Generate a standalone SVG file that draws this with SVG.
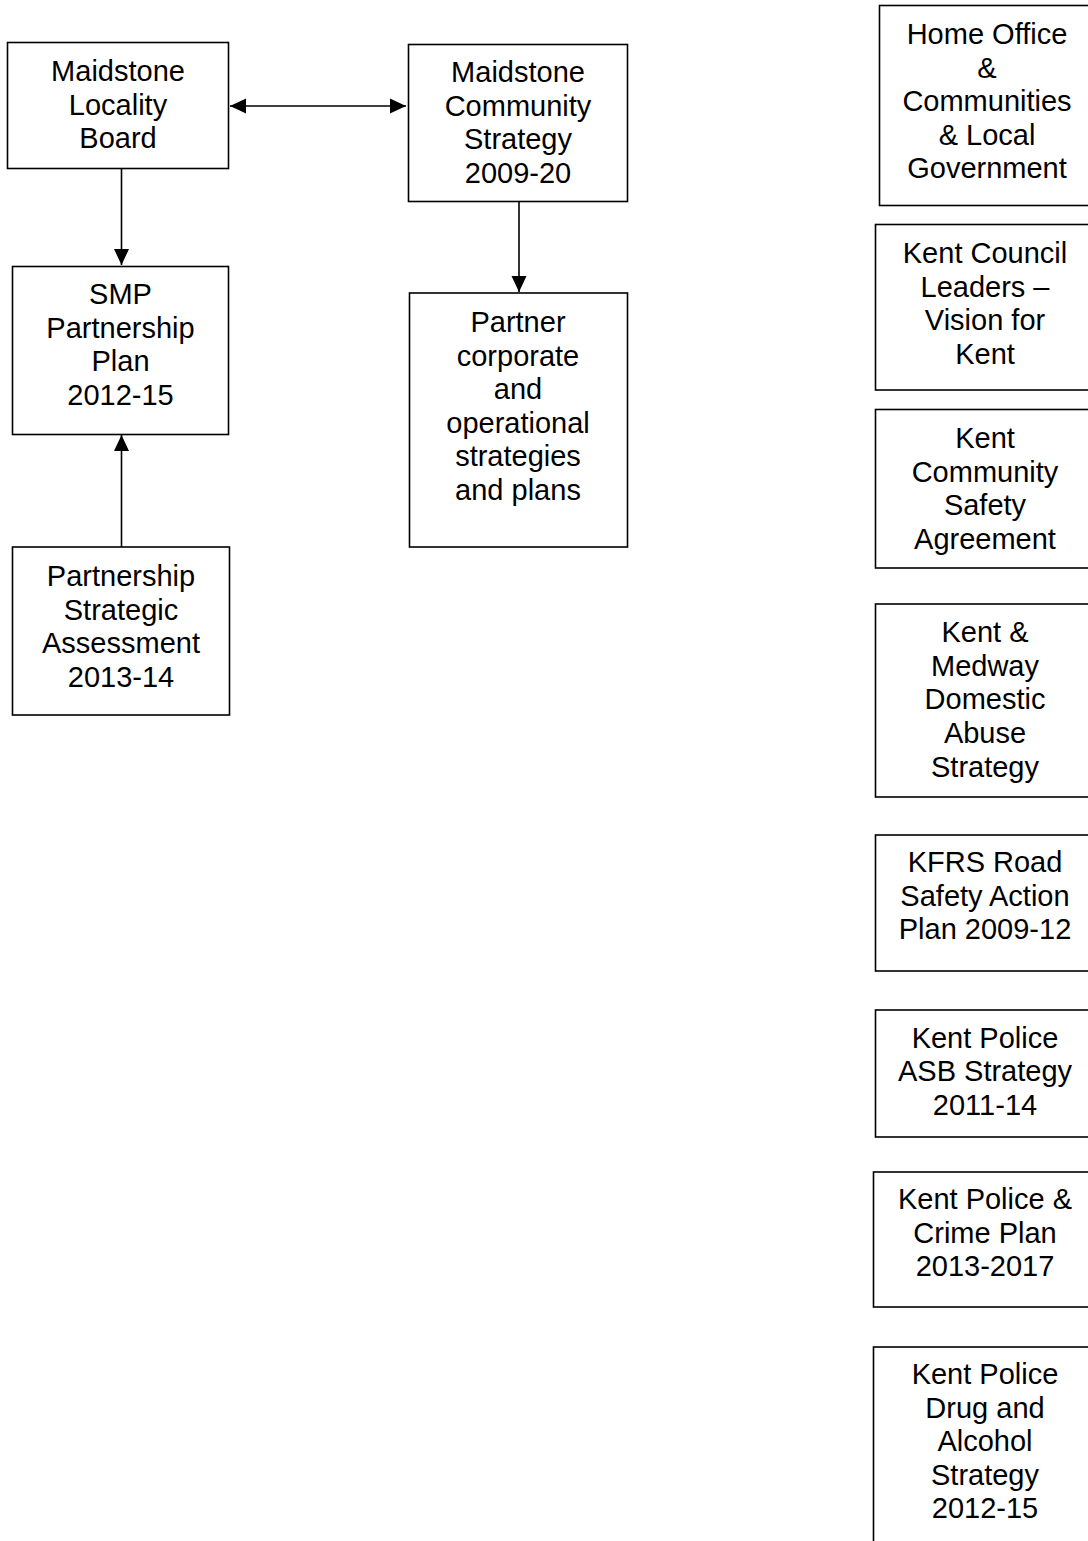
<svg xmlns="http://www.w3.org/2000/svg" width="1088" height="1541" viewBox="0 0 1088 1541">
<style>
.box{fill:#fff;stroke:#000;stroke-width:1.6}
.t{font-family:"Liberation Sans",Arial,sans-serif;font-size:29px;fill:#000;text-anchor:middle}
.c{stroke:#000;stroke-width:1.6;fill:none}
</style>
<defs>
<marker id="ah" markerUnits="userSpaceOnUse" markerWidth="16" markerHeight="16" refX="16" refY="8" orient="auto-start-reverse" viewBox="0 0 16 16">
<path d="M0,0.5 L16,8 L0,15.5 Z" fill="#000"/>
</marker>
</defs>
<rect width="1088" height="1541" fill="#fff"/>
<g id="connectors">
<line class="c" x1="230" y1="106" x2="406" y2="106" marker-start="url(#ah)" marker-end="url(#ah)"/>
<line class="c" x1="121.5" y1="168" x2="121.5" y2="265" marker-end="url(#ah)"/>
<line class="c" x1="121.5" y1="547" x2="121.5" y2="435" marker-end="url(#ah)"/>
<line class="c" x1="519" y1="201" x2="519" y2="292" marker-end="url(#ah)"/>
</g>
<g id="locality-board">
<rect class="box" x="7.5" y="42.5" width="221" height="126"/>
<text class="t" x="118" y="81">Maidstone</text>
<text class="t" x="118" y="114.5">Locality</text>
<text class="t" x="118" y="148">Board</text>
</g>
<g id="community-strategy">
<rect class="box" x="408.5" y="44.5" width="219" height="157"/>
<text class="t" x="518" y="82">Maidstone</text>
<text class="t" x="518" y="115.5">Community</text>
<text class="t" x="518" y="149">Strategy</text>
<text class="t" x="518" y="182.5">2009-20</text>
</g>
<g id="smp-plan">
<rect class="box" x="12.5" y="266.5" width="216" height="168"/>
<text class="t" x="120.5" y="304">SMP</text>
<text class="t" x="120.5" y="338">Partnership</text>
<text class="t" x="120.5" y="371">Plan</text>
<text class="t" x="120.5" y="405">2012-15</text>
</g>
<g id="strategic-assessment">
<rect class="box" x="12.5" y="547" width="217" height="168"/>
<text class="t" x="121" y="586">Partnership</text>
<text class="t" x="121" y="619.5">Strategic</text>
<text class="t" x="121" y="653">Assessment</text>
<text class="t" x="121" y="686.5">2013-14</text>
</g>
<g id="partner-strategies">
<rect class="box" x="409.5" y="293" width="218" height="254"/>
<text class="t" x="518" y="332">Partner</text>
<text class="t" x="518" y="365.5">corporate</text>
<text class="t" x="518" y="399">and</text>
<text class="t" x="518" y="432.5">operational</text>
<text class="t" x="518" y="466">strategies</text>
<text class="t" x="518" y="500">and plans</text>
</g>
<g id="home-office">
<rect class="box" x="879.5" y="5.5" width="220" height="200"/>
<text class="t" x="987" y="44">Home Office</text>
<text class="t" x="987" y="77.5">&amp;</text>
<text class="t" x="987" y="111">Communities</text>
<text class="t" x="987" y="144.5">&amp; Local</text>
<text class="t" x="987" y="178">Government</text>
</g>
<g id="kent-council-leaders">
<rect class="box" x="875.5" y="224.5" width="224" height="165.5"/>
<text class="t" x="985" y="263">Kent Council</text>
<text class="t" x="985" y="297">Leaders –</text>
<text class="t" x="985" y="330">Vision for</text>
<text class="t" x="985" y="364">Kent</text>
</g>
<g id="kent-community-safety">
<rect class="box" x="875.5" y="409.5" width="224" height="158.5"/>
<text class="t" x="985" y="448">Kent</text>
<text class="t" x="985" y="482">Community</text>
<text class="t" x="985" y="515">Safety</text>
<text class="t" x="985" y="549">Agreement</text>
</g>
<g id="domestic-abuse">
<rect class="box" x="875.5" y="604" width="224" height="193"/>
<text class="t" x="985" y="642">Kent &amp;</text>
<text class="t" x="985" y="676">Medway</text>
<text class="t" x="985" y="709">Domestic</text>
<text class="t" x="985" y="743">Abuse</text>
<text class="t" x="985" y="777">Strategy</text>
</g>
<g id="kfrs-road-safety">
<rect class="box" x="875.5" y="835" width="224" height="136"/>
<text class="t" x="985" y="872">KFRS Road</text>
<text class="t" x="985" y="906">Safety Action</text>
<text class="t" x="985" y="939">Plan 2009-12</text>
</g>
<g id="asb-strategy">
<rect class="box" x="875.5" y="1010" width="224" height="127"/>
<text class="t" x="985" y="1048">Kent Police</text>
<text class="t" x="985" y="1081">ASB Strategy</text>
<text class="t" x="985" y="1115">2011-14</text>
</g>
<g id="police-crime-plan">
<rect class="box" x="873.5" y="1172" width="226" height="135"/>
<text class="t" x="985" y="1209">Kent Police &amp;</text>
<text class="t" x="985" y="1243">Crime Plan</text>
<text class="t" x="985" y="1276">2013-2017</text>
</g>
<g id="drug-alcohol">
<rect class="box" x="873.5" y="1347" width="226" height="210"/>
<text class="t" x="985" y="1384">Kent Police</text>
<text class="t" x="985" y="1418">Drug and</text>
<text class="t" x="985" y="1451">Alcohol</text>
<text class="t" x="985" y="1485">Strategy</text>
<text class="t" x="985" y="1518">2012-15</text>
</g>
</svg>
